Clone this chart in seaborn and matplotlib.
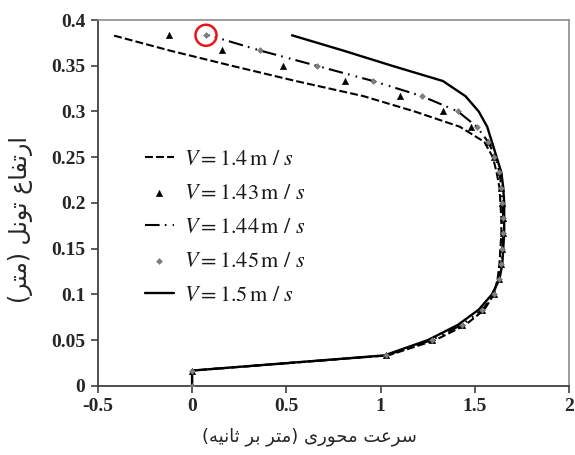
import matplotlib
matplotlib.use("Agg")
import matplotlib.pyplot as plt
import seaborn as sns
import pandas as pd

# ---------------- data ----------------
heights = [0.0, 0.0167, 0.0333, 0.05, 0.0667, 0.0833, 0.1, 0.1167, 0.1333, 0.15,
           0.1667, 0.1833, 0.2, 0.2167, 0.2333, 0.25, 0.2667, 0.2833, 0.3, 0.3167,
           0.3333, 0.35, 0.3667, 0.3833]
v_140 = [0, 0, 1.04, 1.29, 1.45, 1.55, 1.60, 1.62, 1.63, 1.635, 1.64, 1.64, 1.635,
         1.63, 1.615, 1.595, 1.55, 1.42, 1.18, 0.91, 0.55, 0.21, -0.12, -0.42]
v_143 = [0, 0, 1.03, 1.27, 1.43, 1.54, 1.60, 1.625, 1.64, 1.645, 1.65, 1.65, 1.645,
         1.64, 1.625, 1.60, 1.57, 1.48, 1.33, 1.10, 0.81, 0.48, 0.16, -0.12]
v_144 = [0, 0, 1.03, 1.27, 1.43, 1.54, 1.60, 1.625, 1.64, 1.645, 1.65, 1.65, 1.645,
         1.64, 1.63, 1.61, 1.57, 1.51, 1.41, 1.22, 0.96, 0.66, 0.36, 0.09]
v_145 = [0, 0, 1.03, 1.27, 1.43, 1.54, 1.60, 1.625, 1.64, 1.645, 1.65, 1.65, 1.645,
         1.64, 1.63, 1.60, 1.57, 1.51, 1.41, 1.22, 0.96, 0.66, 0.36, 0.074]
v_150 = [0, 0, 1.02, 1.25, 1.41, 1.52, 1.59, 1.63, 1.645, 1.65, 1.655, 1.655, 1.655,
         1.65, 1.64, 1.615, 1.59, 1.565, 1.52, 1.45, 1.33, 1.06, 0.80, 0.53]
labels = ["1.4", "1.43", "1.44", "1.45", "1.5"]
x_ticks = [-0.5, 0, 0.5, 1, 1.5, 2]
y_ticks = [0, 0.05, 0.1, 0.15, 0.2, 0.25, 0.3, 0.35, 0.4]
x_tick_labels = ["-0.5", "0", "0.5", "1", "1.5", "2"]
y_tick_labels = ["0", "0.05", "0.1", "0.15", "0.2", "0.25", "0.3", "0.35", "0.4"]
xlabel_text = "سرعت محوری (متر بر ثانیه)"
ylabel_text = "ارتفاع تونل (متر)"

# ------------- simple Arabic/Persian shaping (visual order) -------------
FORMS = {
    "ا": ("\uFE8D", "\uFE8E"),
    "ب": ("\uFE8F", "\uFE90", "\uFE91", "\uFE92"),
    "ت": ("\uFE95", "\uFE96", "\uFE97", "\uFE98"),
    "ث": ("\uFE99", "\uFE9A", "\uFE9B", "\uFE9C"),
    "ح": ("\uFEA1", "\uFEA2", "\uFEA3", "\uFEA4"),
    "ر": ("\uFEAD", "\uFEAE"),
    "س": ("\uFEB1", "\uFEB2", "\uFEB3", "\uFEB4"),
    "ع": ("\uFEC9", "\uFECA", "\uFECB", "\uFECC"),
    "ف": ("\uFED1", "\uFED2", "\uFED3", "\uFED4"),
    "ل": ("\uFEDD", "\uFEDE", "\uFEDF", "\uFEE0"),
    "م": ("\uFEE1", "\uFEE2", "\uFEE3", "\uFEE4"),
    "ن": ("\uFEE5", "\uFEE6", "\uFEE7", "\uFEE8"),
    "ه": ("\uFEE9", "\uFEEA", "\uFEEB", "\uFEEC"),
    "و": ("\uFEED", "\uFEEE"),
    "ی": ("\uFBFC", "\uFBFD", "\uFBFE", "\uFBFF"),
}


def shape(text):
    out = []
    n = len(text)
    for i, ch in enumerate(text):
        if ch not in FORMS:
            out.append(ch)
            continue
        f = FORMS[ch]
        prev = text[i - 1] if i > 0 else None
        nxt = text[i + 1] if i < n - 1 else None
        join_prev = prev in FORMS and len(FORMS[prev]) == 4
        join_next = len(f) == 4 and nxt in FORMS
        if join_prev and join_next:
            out.append(f[3])
        elif join_prev:
            out.append(f[1])
        elif join_next:
            out.append(f[2])
        else:
            out.append(f[0])
    vis = "".join(out)[::-1]
    vis = vis.replace("(", "\0").replace(")", "(").replace("\0", ")")
    return vis


# ---------------- plot ----------------
sns.set_style("white")
plt.rcParams["mathtext.fontset"] = "stix"

fig = plt.figure(figsize=(5.75, 4.55), dpi=100)
ax = fig.add_axes([0.170, 0.152, 0.820, 0.804])

df = pd.DataFrame({"h": heights, "v140": v_140, "v143": v_143,
                   "v144": v_144, "v145": v_145, "v150": v_150})

sns.lineplot(data=df, x="v140", y="h", sort=False, estimator=None, ax=ax,
             color="black", lw=1.5)
l140 = ax.lines[-1]
l140.set_dashes((3.8, 1.5))

sns.scatterplot(data=df, x="v143", y="h", ax=ax, marker="^", color="black",
                s=22, edgecolor="black", linewidth=0.3, zorder=4)
sc143 = ax.collections[-1]

sns.lineplot(data=df, x="v144", y="h", sort=False, estimator=None, ax=ax,
             color="black", lw=1.5)
l144 = ax.lines[-1]
l144.set_dashes((7, 2.5, 0.8, 3, 0.8, 2.5))

sns.scatterplot(data=df, x="v145", y="h", ax=ax, marker="D", color="#808080",
                s=9, edgecolor="#606060", linewidth=0.3, zorder=5)
sc145 = ax.collections[-1]

sns.lineplot(data=df, x="v150", y="h", sort=False, estimator=None, ax=ax,
             color="black", lw=1.7)
l150 = ax.lines[-1]

# highlight circle on the top point of the 1.45 series
ax.scatter([v_145[-1]], [heights[-1]], s=230, facecolors="none",
           edgecolors="#e8141c", linewidths=1.8, zorder=6)

ax.set_xlim(-0.5, 2)
ax.set_ylim(0, 0.4)
ax.set_xticks(x_ticks)
ax.set_yticks(y_ticks)
tick_font = dict(family="Liberation Serif", weight="bold", size=14)
ax.set_xticklabels(x_tick_labels, fontdict=tick_font)
ax.set_yticklabels(y_tick_labels, fontdict=tick_font)
ax.tick_params(axis="both", direction="out", length=5, width=1.2,
               color="#404040", pad=4, left=True, bottom=True)

for side in ["top", "right"]:
    ax.spines[side].set_color("#8c8c8c")
    ax.spines[side].set_linewidth(1.2)
for side in ["left", "bottom"]:
    ax.spines[side].set_color("#404040")
    ax.spines[side].set_linewidth(1.3)

ax.set_xlabel(shape(xlabel_text), family="DejaVu Sans", fontsize=13)
ax.set_ylabel(shape(ylabel_text), family="DejaVu Sans", fontsize=17)
ax.xaxis.set_label_coords(0.448, -0.115)
ax.yaxis.set_label_coords(-0.138, 0.454)

handles = [l140, sc143, l144, sc145, l150]
leg_labels = [r"$V = %s\,\mathrm{m}\ /\ s$" % v for v in labels]
leg = ax.legend(handles, leg_labels, loc="upper left",
                bbox_to_anchor=(0.10, 0.647), frameon=False, fontsize=16,
                handlelength=1.3, labelspacing=0.63, handletextpad=0.45,
                borderpad=0, borderaxespad=0)
for t in leg.get_texts():
    t.set_color("#1a1a1a")

fig.savefig("out.png", dpi=100)
